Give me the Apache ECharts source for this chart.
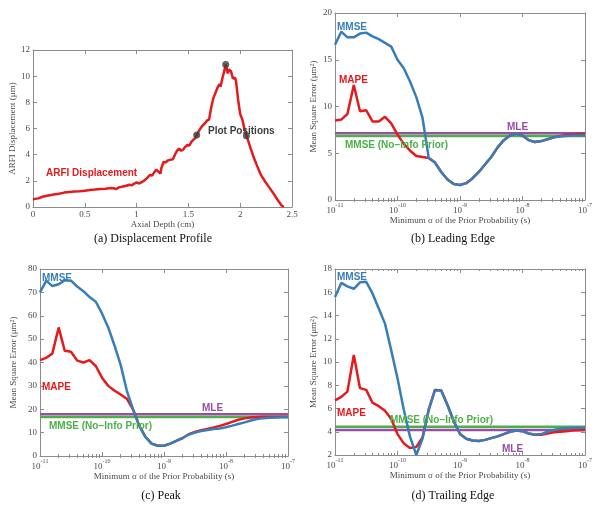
<!DOCTYPE html>
<html><head><meta charset="utf-8">
<script src="https://cdn.jsdelivr.net/npm/echarts@6/dist/echarts.min.js"></script>
<style>html,body{margin:0;padding:0;background:#fff}#c{width:601px;height:508px}</style>
</head><body><div id="c"></div>
<script>
// ---------- (a) Displacement profile ----------
const depthCm = [0,0.05,0.1,0.15,0.2,0.25,0.3,0.35,0.4,0.45,0.5,0.55,0.6,0.65,0.7,0.75,0.78,0.8,0.83,0.87,0.9,0.93,0.95,0.97,1.0,1.02,1.04,1.07,1.1,1.13,1.15,1.17,1.19,1.21,1.23,1.24,1.26,1.28,1.3,1.32,1.33,1.35,1.37,1.39,1.41,1.43,1.45,1.47,1.49,1.51,1.53,1.55,1.57,1.58,1.6,1.62,1.64,1.66,1.68,1.7,1.72,1.74,1.76,1.78,1.8,1.81,1.83,1.85,1.86,1.87,1.88,1.89,1.9,1.91,1.93,1.95,1.96,1.98,2.0,2.02,2.04,2.06,2.08,2.1,2.13,2.16,2.2,2.24,2.28,2.32,2.36,2.4,2.42];
const displacementUm = [0.6,0.66,0.8,0.88,0.95,1.02,1.1,1.14,1.18,1.2,1.25,1.3,1.33,1.38,1.4,1.45,1.44,1.36,1.5,1.57,1.62,1.7,1.65,1.75,1.88,1.8,1.85,2.0,2.2,2.45,2.4,2.65,2.85,2.7,2.55,3.0,3.45,3.4,3.55,3.6,3.45,3.65,4.0,4.3,4.45,4.3,4.4,4.6,4.75,4.7,5.0,5.15,5.3,5.5,5.8,6.05,6.25,6.4,6.6,6.7,7.6,8.3,8.7,9.1,9.4,9.2,9.9,10.5,10.9,10.6,10.2,10.5,10.65,10.4,9.8,9.9,9.6,8.2,7.1,6.7,6.0,5.45,5.0,4.5,3.8,3.2,2.45,1.95,1.5,1.05,0.55,0.12,0];
const plotPosDepth = [1.58, 1.86, 2.06];
const plotPosDisp = [5.5, 10.9, 5.45];

// ---------- shared sigma grid (s) ----------
const sigma = [1e-11,1.26e-11,1.58e-11,2e-11,2.51e-11,3.16e-11,3.98e-11,5.01e-11,6.31e-11,7.94e-11,
  1e-10,1.26e-10,1.58e-10,2e-10,2.51e-10,3.16e-10,3.98e-10,5.01e-10,6.31e-10,7.94e-10,
  1e-9,1.26e-9,1.58e-9,2e-9,2.51e-9,3.16e-9,3.98e-9,5.01e-9,6.31e-9,7.94e-9,
  1e-8,1.26e-8,1.58e-8,2e-8,2.51e-8,3.16e-8,3.98e-8,5.01e-8,6.31e-8,7.94e-8,1e-7];
const sigmaMinorTicks = [2e-11,3e-11,4e-11,5e-11,6e-11,7e-11,8e-11,9e-11,
  2e-10,3e-10,4e-10,5e-10,6e-10,7e-10,8e-10,9e-10,
  2e-9,3e-9,4e-9,5e-9,6e-9,7e-9,8e-9,9e-9,
  2e-8,3e-8,4e-8,5e-8,6e-8,7e-8,8e-8,9e-8];

// ---------- (b) Leading edge ----------
const leadMMSE = [16.6,18.0,17.4,17.4,17.8,17.9,17.5,17.2,16.8,16.4,15.0,14.1,12.7,11.0,8.8,4.5,4.0,3.0,2.2,1.7,1.6,1.8,2.3,3.0,3.8,4.6,5.6,6.4,6.9,7.1,6.9,6.4,6.2,6.3,6.5,6.7,6.8,6.85,6.9,6.9,6.9];
const leadMAPE = [8.5,8.6,9.2,12.3,9.5,9.6,8.4,8.4,8.9,8.2,7.0,6.0,5.3,4.7,4.6,4.5,4.0,3.0,2.2,1.7,1.6,1.8,2.3,3.0,3.8,4.6,5.6,6.4,6.9,7.1,6.9,6.4,6.2,6.3,6.5,6.7,6.85,6.95,7.0,7.05,7.05];
const leadMLE = 7.15;
const leadNoInfo = 6.85;

// ---------- (c) Peak ----------
const peakMMSE = [70,75,72.7,73.5,75.2,75,72.5,70.5,68,66,61,55,47.5,39,28,20,13,8.2,5.3,4.4,4.4,5.3,6.5,7.7,9.2,10.0,10.7,11.1,11.5,11.8,12.3,13.0,13.7,14.4,15.2,15.8,16.2,16.4,16.5,16.6,16.6];
const peakMAPE = [41,42,43.8,55,45,44.6,40.8,40,41,38.5,33.5,30,28,26.3,24.5,20,13,8.2,5.3,4.4,4.4,5.3,6.5,7.7,9.3,10.3,11.0,11.6,12.2,12.9,13.7,14.6,15.5,16.1,16.5,16.7,16.8,16.8,16.8,16.8,16.8];
const peakMLE = 17.9;
const peakNoInfo = 16.7;

// ---------- (d) Trailing edge ----------
const trailMMSE = [15.6,16.8,16.5,16.3,16.85,16.9,15.9,14.6,13.3,11.0,8.6,5.9,3.6,2.0,3.4,5.9,7.6,7.55,6.3,4.9,3.8,3.4,3.25,3.2,3.3,3.45,3.6,3.8,4.0,4.1,4.05,3.85,3.75,3.8,4.0,4.15,4.25,4.3,4.35,4.35,4.35];
const trailMAPE = [6.7,7.0,7.45,10.6,7.75,7.6,6.5,6.2,5.8,5.1,3.8,3.0,2.6,2.7,3.5,5.9,7.6,7.55,6.3,4.9,3.8,3.4,3.25,3.2,3.3,3.45,3.6,3.8,4.0,4.1,4.05,3.85,3.75,3.75,3.85,3.95,4.0,4.05,4.1,4.12,4.15];
const trailMLE = 4.15;
const trailNoInfo = 4.42;

// ---------- styling ----------
const SERIF = '"Liberation Serif","DejaVu Serif",serif';
const SANS = '"Liberation Sans",Arial,sans-serif';
const C_RED = '#e41a1c', C_BLUE = '#377eb8', C_GREEN = '#4daf4a', C_PURPLE = '#984ea3';
const AX = '#8c8c8c', TXT = '#4a4a4a';
const LW = 2.5;

const grids = [
  {left:33, top:50, width:259, height:157},
  {left:335, top:13, width:250, height:187},
  {left:40, top:269, width:248, height:187},
  {left:335, top:269, width:250, height:186}
];

function logFmt(v){
  const e = Math.round(Math.log10(v));
  return '{b|10}{s|' + e + '}';
}
const logRich = {
  b:{fontSize:9, fontFamily:SERIF, color:TXT, lineHeight:13, verticalAlign:'bottom'},
  s:{fontSize:6, fontFamily:SERIF, color:TXT, verticalAlign:'top'}
};

function mkX(gi, cfg, top){
  const base = {
    gridIndex: gi, position: top ? 'top' : 'bottom',
    axisLine:{show:true, onZero:false, lineStyle:{color:AX, width:1}},
    axisTick:{show:true, inside:true, length:4, lineStyle:{color:AX}},
    splitLine:{show:false},
    axisLabel:{show:!top, color:TXT, fontFamily:SERIF, fontSize:9, margin:3},
    nameLocation:'middle',
    nameTextStyle:{color:TXT, fontFamily:SERIF, fontSize:9}
  };
  return Object.assign(base, cfg, top ? {name:''} : {});
}
function mkY(gi, cfg, right){
  const base = {
    gridIndex: gi, position: right ? 'right' : 'left',
    axisLine:{show:true, onZero:false, lineStyle:{color:AX, width:1}},
    axisTick:{show:true, inside:true, length:4, lineStyle:{color:AX}},
    splitLine:{show:false},
    axisLabel:{show:!right, color:TXT, fontFamily:SERIF, fontSize:9, margin:3},
    nameLocation:'middle',
    nameTextStyle:{color:TXT, fontFamily:SERIF, fontSize:9,
      rich:{s:{fontSize:6, fontFamily:SERIF, color:TXT, verticalAlign:'top'}}}
  };
  return Object.assign(base, cfg, right ? {name:''} : {});
}

const sigName = 'Minimum σ of the Prior Probability (s)';
const mseName = 'Mean Square Error (μm{s|2})';

const xAxes = [], yAxes = [];
// (a)
const xa = {type:'value', min:0, max:2.5, interval:0.5, name:'Axial Depth (cm)', nameGap:11};
const ya = {type:'value', min:0, max:12, interval:2, name:'ARFI Displacement (μm)', nameGap:13};
xAxes.push(mkX(0, xa, false), mkX(0, xa, true));
yAxes.push(mkY(0, ya, false), mkY(0, ya, true));
// (b),(c),(d)
const yCfgs = [
  {min:0, max:20, interval:5, nameGap:17},
  {min:0, max:80, interval:10, nameGap:22},
  {min:2, max:18, interval:2, nameGap:17}
];
const minorXIdx = [];
for (let k = 0; k < 3; k++) {
  const gi = k + 1;
  const xc = {type:'log', logBase:10, min:1e-11, max:1e-7, name:sigName, nameGap:16};
  const bx = mkX(gi, xc, false);
  bx.axisLabel = {show:true, formatter:logFmt, rich:logRich, margin:2};
  const tx = mkX(gi, xc, true);
  tx.axisLabel = {show:false};
  xAxes.push(bx, tx);
  const yc = Object.assign({type:'value', name:mseName}, yCfgs[k]);
  yAxes.push(mkY(gi, yc, false), mkY(gi, yc, true));
}
// minor (log-spaced) tick axes for the sigma panels
for (let k = 0; k < 3; k++) {
  const gi = k + 1;
  ['bottom','top'].forEach(pos => {
    xAxes.push({type:'log', logBase:10, gridIndex:gi, position:pos, min:1e-11, max:1e-7,
      axisLine:{show:false}, splitLine:{show:false}, axisLabel:{show:false},
      axisTick:{show:true, inside:true, length:2, customValues:sigmaMinorTicks, lineStyle:{color:AX}}});
  });
}

function lineSeries(xi, yi, data, color, z){
  return {type:'line', xAxisIndex:xi, yAxisIndex:yi, data:data, showSymbol:false, symbol:'none',
    lineStyle:{color:color, width:LW}, itemStyle:{color:color}, z:z||2, animation:false, silent:true};
}
function pairs(xs, ys){ return xs.map((x,i)=>[x, ys[i]]); }
function hline(v){ return [[sigma[0], v],[sigma[sigma.length-1], v]]; }

const series = [];
series.push(lineSeries(0, 0, pairs(depthCm, displacementUm), C_RED, 2));
series.push({type:'scatter', xAxisIndex:0, yAxisIndex:0, data:pairs(plotPosDepth, plotPosDisp),
  symbol:'circle', symbolSize:7, itemStyle:{color:'#3d3d3d'}, z:5, animation:false, silent:true});

const panels = [
  [leadMMSE, leadMAPE, leadMLE, leadNoInfo],
  [peakMMSE, peakMAPE, peakMLE, peakNoInfo],
  [trailMMSE, trailMAPE, trailMLE, trailNoInfo]
];
panels.forEach((p, k) => {
  const xi = 2*(k+1), yi = 2*(k+1);
  series.push(lineSeries(xi, yi, hline(p[2]), C_PURPLE, 2));
  series.push(lineSeries(xi, yi, hline(p[3]), C_GREEN, 2));
  series.push(lineSeries(xi, yi, pairs(sigma, p[1]), C_RED, 3));
  series.push(lineSeries(xi, yi, pairs(sigma, p[0]), C_BLUE, 4));
});

function note(text, x, y, color){
  return {type:'text', x:x, y:y, silent:true, z:10,
    style:{text:text, fill:color, font:'bold 10px ' + SANS, align:'left', verticalAlign:'middle'}};
}
function caption(text, x, y){
  return {type:'text', x:x, y:y, silent:true, z:10,
    style:{text:text, fill:'#111', font:'12px ' + SERIF, align:'center', verticalAlign:'middle'}};
}
const graphics = [
  note('ARFI Displacement', 46, 173, C_RED),
  note('Plot Positions', 208, 131, '#3d3d3d'),
  note('MMSE', 337, 27, C_BLUE),
  note('MAPE', 339, 80, C_RED),
  note('MLE', 507, 127, C_PURPLE),
  note('MMSE (No\u2212Info Prior)', 345, 145, C_GREEN),
  note('MMSE', 42, 278, C_BLUE),
  note('MAPE', 42, 387, C_RED),
  note('MLE', 202, 408, C_PURPLE),
  note('MMSE (No\u2212Info Prior)', 49, 426, C_GREEN),
  note('MMSE', 337, 277, C_BLUE),
  note('MAPE', 337, 413, C_RED),
  note('MMSE (No\u2212Info Prior)', 390, 420, C_GREEN),
  note('MLE', 502, 449, C_PURPLE),
  caption('(a) Displacement Profile', 153, 239),
  caption('(b) Leading Edge', 453, 239),
  caption('(c) Peak', 161, 496),
  caption('(d) Trailing Edge', 453, 496)
];

const chart = echarts.init(document.getElementById('c'), null, {renderer:'canvas'});
chart.setOption({
  animation:false,
  backgroundColor:'#ffffff',
  grid: grids,
  xAxis: xAxes,
  yAxis: yAxes,
  series: series,
  graphic: graphics
});
</script></body></html>
